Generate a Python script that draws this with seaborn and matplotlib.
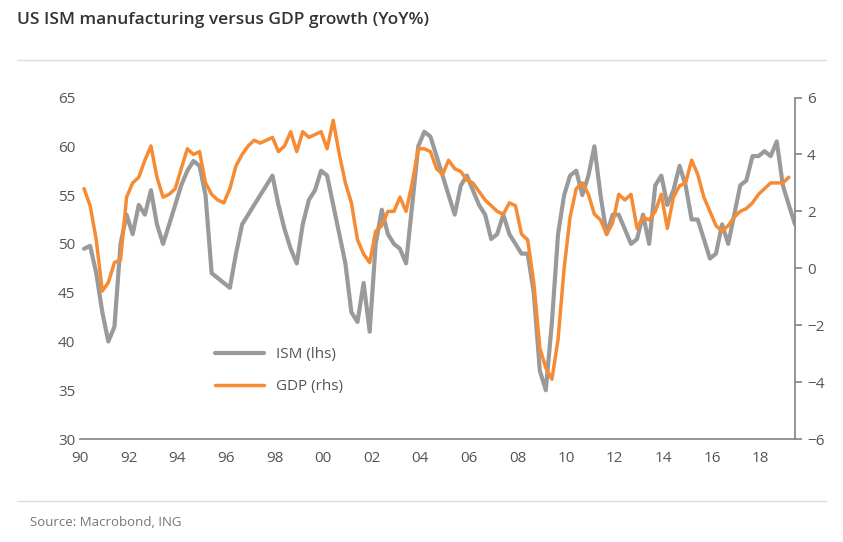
import matplotlib
matplotlib.use("Agg")
import matplotlib.pyplot as plt
import matplotlib.dates as mdates
import pandas as pd
import seaborn as sns

# quarterly readings, 1990Q1 onward
ism = [49.5, 49.8, 47, 43, 40, 41.5, 50, 53, 51, 54, 53, 55.5, 52, 50, 52, 54,
       56, 57.5, 58.5, 58, 55, 47, 46.5, 46, 45.5, 49, 52, 53, 54, 55, 56, 57,
       54, 51.5, 49.5, 48, 52, 54.5, 55.5, 57.5, 57, 54, 51, 48, 43, 42, 46, 41,
       50, 53.5, 51, 50, 49.5, 48, 54, 60, 61.5, 61, 59, 57, 55, 53, 56, 57,
       55.5, 54, 53, 50.5, 51, 53, 51, 50, 49, 49, 45, 37, 35, 42, 51, 55,
       57, 57.5, 55, 57, 60, 55, 51, 53, 53, 51.5, 50, 50.5, 53, 50, 56, 57,
       54, 55.5, 58, 56, 52.5, 52.5, 50.5, 48.5, 49, 52, 50, 53, 56, 56.5, 59, 59,
       59.5, 59, 60.5, 56, 54, 52]
gdp = [2.8, 2.2, 1.0, -0.8, -0.5, 0.2, 0.3, 2.5, 3.0, 3.2, 3.8, 4.3, 3.2, 2.5, 2.6, 2.8,
       3.5, 4.2, 4.0, 4.1, 3.0, 2.6, 2.4, 2.3, 2.8, 3.6, 4.0, 4.3, 4.5, 4.4, 4.5, 4.6,
       4.1, 4.3, 4.8, 4.1, 4.8, 4.6, 4.7, 4.8, 4.2, 5.2, 4.0, 3.0, 2.3, 1.0, 0.5, 0.2,
       1.3, 1.5, 2.0, 2.0, 2.5, 2.0, 3.0, 4.2, 4.2, 4.1, 3.5, 3.3, 3.8, 3.5, 3.4, 3.1,
       3.0, 2.7, 2.4, 2.2, 2.0, 1.9, 2.3, 2.2, 1.2, 1.0, -0.5, -2.8, -3.5, -3.9, -2.5, 0.0,
       1.8, 2.8, 3.0, 2.6, 1.9, 1.7, 1.2, 1.6, 2.6, 2.4, 2.6, 1.4, 1.8, 1.7, 2.0, 2.6,
       1.4, 2.5, 2.9, 3.0, 3.8, 3.3, 2.5, 2.0, 1.5, 1.3, 1.5, 1.8, 2.0, 2.1, 2.3, 2.6,
       2.8, 3.0, 3.0, 3.0, 3.2]
year_ticks = list(range(1990, 2019, 2))

ism_df = pd.DataFrame({"date": pd.date_range("1990-02-15", periods=len(ism), freq="3MS"), "v": ism})
gdp_df = pd.DataFrame({"date": pd.date_range("1990-02-15", periods=len(gdp), freq="3MS"), "v": gdp})

sns.set_theme(style="white")
plt.rcParams["font.family"] = ["Open Sans", "DejaVu Sans"]

fig = plt.figure(figsize=(8.43, 5.42), dpi=100)
ax = fig.add_axes([0.095, 0.19, 0.848, 0.63])
ax2 = ax.twinx()

grey, orange, txt = "#9a9a9a", "#f68b33", "#555555"
sns.lineplot(data=ism_df, x="date", y="v", ax=ax, color=grey, lw=3, label="ISM (lhs)", legend=False)
sns.lineplot(data=gdp_df, x="date", y="v", ax=ax2, color=orange, lw=2.5, label="GDP (rhs)", legend=False)

ax.set_ylim(30, 65)
ax2.set_ylim(-6, 6)
ax.set_yticks(range(30, 66, 5))
ax2.set_yticks(range(-6, 7, 2))
ax.set_xlim(pd.Timestamp("1990-01-01"), pd.Timestamp("2019-06-01"))
ax.set_xticks([pd.Timestamp(f"{y}-01-01") for y in year_ticks])
ax.xaxis.set_major_formatter(mdates.DateFormatter("%y"))
for a in (ax, ax2):
    a.set_xlabel(""); a.set_ylabel("")
    for s in a.spines.values():
        s.set_visible(False)
    a.tick_params(labelsize=11, colors=txt, length=0)
ax.spines["bottom"].set_visible(True); ax.spines["bottom"].set_color("#888888")
ax2.spines["right"].set_visible(True); ax2.spines["right"].set_color("#888888")
ax.tick_params(axis="x", length=5, color="#888888", direction="out")
ax2.tick_params(axis="y", length=5, color="#888888", direction="out")

h1, l1 = ax.get_legend_handles_labels()
h2, l2 = ax2.get_legend_handles_labels()
ax2.legend(h1 + h2, l1 + l2, loc="center left", bbox_to_anchor=(0.17, 0.2), frameon=False,
           fontsize=11, labelcolor=txt, handlelength=3.2, labelspacing=1.1)

fig.text(0.02, 0.955, "US ISM manufacturing versus GDP growth (YoY%)", fontsize=12.5,
         color="#333333", fontweight="semibold")
fig.add_artist(plt.Line2D([0.02, 0.98], [0.89, 0.89], color="#dddddd", lw=1))
fig.add_artist(plt.Line2D([0.02, 0.98], [0.075, 0.075], color="#dddddd", lw=1))
fig.text(0.035, 0.03, "Source: Macrobond, ING", fontsize=9.5, color="#777777")

fig.savefig("out.png", dpi=100)
